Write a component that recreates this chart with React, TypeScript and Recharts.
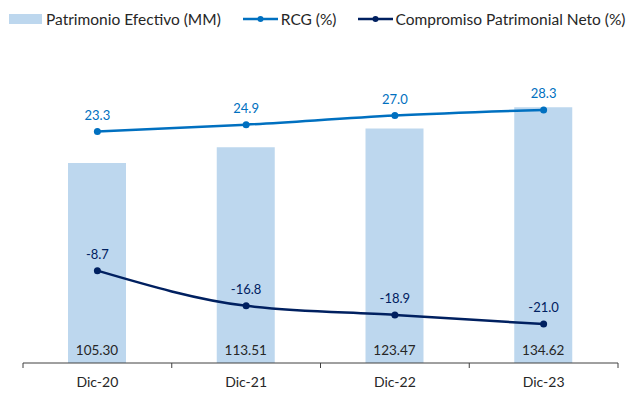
import { ComposedChart, Bar, Line, XAxis, YAxis, LabelList } from "recharts";

const periods = ["Dic-20", "Dic-21", "Dic-22", "Dic-23"];
const patrimonio = [105.3, 113.51, 123.47, 134.62];
const rcg = [23.3, 24.9, 27.0, 28.3];
const compromiso = [-8.7, -16.8, -18.9, -21.0];

const data = periods.map((p, i) => ({
  periodo: p,
  patrimonio: patrimonio[i],
  rcg: rcg[i],
  compromiso: compromiso[i],
}));

const BAR = "#BDD7EE";
const RCG = "#0070C0";
const NETO = "#002060";
const INK = "#262626";

// category label plus Excel-style tick marks between categories
function PeriodTick(props: any) {
  const { x, y, payload, index, visibleTicksCount, width } = props;
  const half = width / visibleTicksCount / 2;
  return (
    <g>
      <line x1={x - half} x2={x - half} y1={y} y2={y + 5} stroke="#404040" />
      {index === visibleTicksCount - 1 && (
        <line x1={x + half} x2={x + half} y1={y} y2={y + 5} stroke="#404040" />
      )}
      <text x={x} y={y + 24} textAnchor="middle" fill={INK} fontSize={14}>
        {payload.value}
      </text>
    </g>
  );
}

function LegendRow() {
  const item = { display: "flex", alignItems: "center" } as const;
  return (
    <div
      style={{
        position: "absolute",
        top: 10,
        left: 9,
        display: "flex",
        alignItems: "center",
        fontSize: 15.5,
        color: INK,
        whiteSpace: "nowrap",
      }}
    >
      <div style={item}>
        <span style={{ width: 33, height: 10, background: BAR, marginRight: 4 }} />
        Patrimonio Efectivo (MM)
      </div>
      <div style={{ ...item, marginLeft: 22 }}>
        <svg width={35} height={10} style={{ marginRight: 3 }}>
          <line x1={0} x2={35} y1={5} y2={5} stroke={RCG} strokeWidth={2.5} />
          <circle cx={17.5} cy={5} r={3} fill={RCG} />
        </svg>
        RCG (%)
      </div>
      <div style={{ ...item, marginLeft: 21 }}>
        <svg width={35} height={10} style={{ marginRight: 3 }}>
          <line x1={0} x2={35} y1={5} y2={5} stroke={NETO} strokeWidth={2.5} />
          <circle cx={17.5} cy={5} r={3} fill={NETO} />
        </svg>
        Compromiso Patrimonial Neto (%)
      </div>
    </div>
  );
}

export default function App() {
  return (
    <div
      style={{
        position: "absolute",
        left: 0,
        top: 0,
        width: 636,
        height: 394,
        background: "#fff",
        fontFamily: "Lato, 'Open Sans', sans-serif",
      }}
    >
      <LegendRow />
      <ComposedChart
        width={636}
        height={394}
        data={data}
        margin={{ top: 40, right: 18, bottom: 0, left: 23 }}
      >
        <XAxis
          dataKey="periodo"
          height={31}
          axisLine={{ stroke: "#404040" }}
          tickLine={false}
          tickSize={0}
          tickMargin={0}
          interval={0}
          tick={<PeriodTick />}
        />
        <YAxis yAxisId="mm" hide domain={[0, 170]} />
        <YAxis yAxisId="pct" hide domain={[-29.96, 44.39]} />
        <Bar yAxisId="mm" dataKey="patrimonio" fill={BAR} barSize={58} isAnimationActive={false}>
          <LabelList
            dataKey="patrimonio"
            position="insideBottom"
            offset={8}
            fill={INK}
            fontSize={13.5}
            formatter={(v: any) => Number(v).toFixed(2)}
          />
        </Bar>
        <Line
          yAxisId="pct"
          type="monotone"
          dataKey="rcg"
          stroke={RCG}
          strokeWidth={2.5}
          dot={{ r: 3.5, fill: RCG, stroke: RCG, strokeWidth: 0 }}
          activeDot={false}
          isAnimationActive={false}
        >
          <LabelList
            dataKey="rcg"
            position="top"
            offset={12}
            fill={RCG}
            fontSize={13}
            formatter={(v: any) => Number(v).toFixed(1)}
          />
        </Line>
        <Line
          yAxisId="pct"
          type="monotone"
          dataKey="compromiso"
          stroke={NETO}
          strokeWidth={2.5}
          dot={{ r: 3.5, fill: NETO, stroke: NETO, strokeWidth: 0 }}
          activeDot={false}
          isAnimationActive={false}
        >
          <LabelList
            dataKey="compromiso"
            position="top"
            offset={12}
            fill={NETO}
            fontSize={13}
            formatter={(v: any) => Number(v).toFixed(1)}
          />
        </Line>
      </ComposedChart>
    </div>
  );
}
